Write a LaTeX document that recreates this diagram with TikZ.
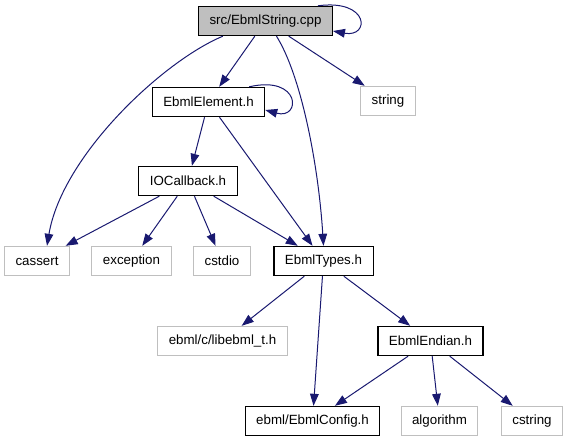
\documentclass[tikz,border=0pt]{standalone}
\usepackage{fontspec}
\setmainfont{Liberation Sans}
\usetikzlibrary{arrows.meta,calc}
\definecolor{edgeblue}{RGB}{25,25,112}
\definecolor{sysgray}{RGB}{191,191,191}
\definecolor{curfill}{RGB}{191,191,191}

\begin{document}
\begin{tikzpicture}[x=0.75pt, y=-0.75pt,
  hdr/.style={rectangle, draw=black, line width=0.8pt, minimum height=22pt, inner xsep=8.25pt, font=\fontsize{10}{12}\selectfont},
  sys/.style={hdr, draw=sysgray},
  edge/.style={-{Triangle[length=9pt,width=6.5pt]}, draw=edgeblue, line width=0.75pt}]
\useasboundingbox (0,0) rectangle (568,443);
% Source file and direct headers
\node[hdr, fill=curfill] (src) at (265.5,21) {src/EbmlString.cpp};
\node[hdr] (elem) at (208.5,102) {EbmlElement.h};
\node[sys] (str) at (388,101) {string};
\node[hdr] (ioc) at (188,181) {IOCallback.h};
% Third row
\node[sys] (cassert) at (37,261) {cassert};
\node[sys] (exc) at (131.5,261) {exception};
\node[sys] (cstdio) at (222,261) {cstdio};
\node[hdr] (types) at (323.5,261) {EbmlTypes.h};
% Fourth row
\node[sys] (libt) at (222.5,341) {ebml/c/libebml\_t.h};
\node[hdr] (endian) at (430.5,341) {EbmlEndian.h};
% Bottom row
\node[hdr] (config) at (312.5,421) {ebml/EbmlConfig.h};
\node[sys] (algo) at (439.5,421) {algorithm};
\node[sys] (cstring) at (532,421) {cstring};
% Self loops
\draw[edge] ([xshift=-11.25pt]src.north east) .. controls +(52,-7) and +(37,7) .. ([yshift=-7.5pt]src.east);
\draw[edge] ([xshift=-12pt]elem.north east) .. controls +(52,-12) and +(36,10) .. ([yshift=-6pt]elem.east);
% From src
\draw[edge] ([xshift=-32pt]src.south) .. controls +(-60,25) and +(15,-90) .. ([xshift=7.5pt]cassert.north);
\draw[edge] (src) -- (elem);
\draw[edge] ([xshift=8.25pt]src.south) .. controls +(25,40) and +(-5,-80) .. (types.north);
\draw[edge] (src) -- (str);
% From EbmlElement.h
\draw[edge] (elem) -- (ioc);
\draw[edge] (elem) -- (types);
% From IOCallback.h
\draw[edge] (ioc) -- (cassert);
\draw[edge] (ioc) -- (exc);
\draw[edge] (ioc) -- (cstdio);
\draw[edge] (ioc) -- (types);
% From EbmlTypes.h
\draw[edge] (types) -- (libt);
\draw[edge] (types) -- (config);
\draw[edge] (types) -- (endian);
% From EbmlEndian.h
\draw[edge] (endian) -- (config);
\draw[edge] (endian) -- (algo);
\draw[edge] (endian) -- (cstring);
\end{tikzpicture}
\end{document}
